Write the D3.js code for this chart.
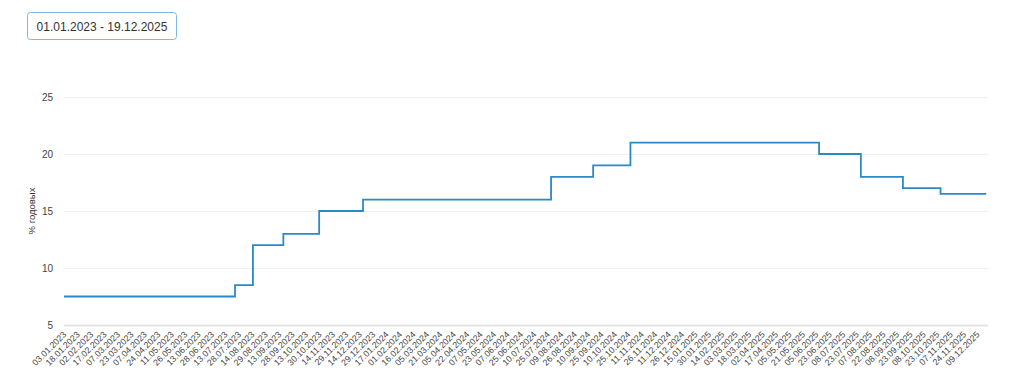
<!DOCTYPE html>
<html>
<head>
<meta charset="utf-8">
<script src="https://cdn.jsdelivr.net/npm/d3@7"></script>
<style>
  body { margin: 0; background: #fff; font-family: "Liberation Sans", Arial, sans-serif; }
</style>
</head>
<body>
<div id="chart"></div>
<script>
// key rate, change points (dd.mm.yyyy)
const rateDates = ["03.01.2023", "24.07.2023", "15.08.2023", "18.09.2023", "30.10.2023", "18.12.2023",
    "29.07.2024", "16.09.2024", "28.10.2024", "09.06.2025", "28.07.2025", "15.09.2025", "27.10.2025", "19.12.2025"];
const rateValues = [7.5, 8.5, 12, 13, 15, 16, 18, 19, 21, 20, 18, 17, 16.5, 16.5];

const tickLabels = ["03.01.2023", "18.01.2023", "02.02.2023", "17.02.2023", "07.03.2023", "23.03.2023", "07.04.2023",
    "24.04.2023", "11.05.2023", "26.05.2023", "13.06.2023", "28.06.2023", "13.07.2023", "28.07.2023", "14.08.2023",
    "29.08.2023", "13.09.2023", "28.09.2023", "13.10.2023", "30.10.2023", "14.11.2023", "29.11.2023", "14.12.2023",
    "29.12.2023", "17.01.2024", "01.02.2024", "16.02.2024", "05.03.2024", "21.03.2024", "05.04.2024", "22.04.2024",
    "07.05.2024", "23.05.2024", "07.06.2024", "25.06.2024", "10.07.2024", "25.07.2024", "09.08.2024", "26.08.2024",
    "10.09.2024", "25.09.2024", "10.10.2024", "25.10.2024", "11.11.2024", "26.11.2024", "11.12.2024", "26.12.2024",
    "15.01.2025", "30.01.2025", "14.02.2025", "03.03.2025", "18.03.2025", "02.04.2025", "17.04.2025", "05.05.2025",
    "21.05.2025", "05.06.2025", "23.06.2025", "08.07.2025", "23.07.2025", "07.08.2025", "22.08.2025", "08.09.2025",
    "23.09.2025", "08.10.2025", "23.10.2025", "07.11.2025", "24.11.2025", "09.12.2025"];
const yTicks = [5, 10, 15, 20, 25];
const rangeLabel = "01.01.2023 - 19.12.2025";
const yTitle = "% годовых";

const parse = d3.timeParse("%d.%m.%Y");

let width = 1024, height = 380;
let margin = { left: 64, right: 36, top: 97, bottom: 55 };

var svg = d3.select("#chart").append("svg")
    .attr("width", width)
    .attr("height", height);

// date range box
svg.append("rect")
    .attr("x", 27.5).attr("y", 12.5)
    .attr("width", 149).attr("height", 27)
    .attr("rx", 3)
    .attr("fill", "#fff")
    .attr("stroke", "#7fb9e3");
svg.append("text")
    .attr("x", 102).attr("y", 30.5)
    .attr("text-anchor", "middle")
    .attr("font-size", 12)
    .attr("fill", "#333")
    .text(rangeLabel);

// ticks are evenly spaced (trading days), so use a polylinear time scale
var tickDates = tickLabels.map(parse);
var step = 13.43;
var x = d3.scaleTime()
    .domain(tickDates)
    .range(tickDates.map((d, i) => margin.left + i * step));

var y = d3.scaleLinear().domain([5, 25]).range([height - margin.bottom, margin.top]);
var plotRight = width - margin.right;

// grid
svg.append("g")
    .selectAll("line")
    .data(yTicks)
    .enter().append("line")
    .attr("x1", margin.left).attr("x2", plotRight)
    .attr("y1", d => y(d) + 0.5).attr("y2", d => y(d) + 0.5)
    .attr("stroke", d => d === 5 ? "#e3e3e3" : "#f0f0f0")
    .attr("stroke-width", d => d === 5 ? 2 : 1);

// y labels
svg.append("g")
    .selectAll("text")
    .data(yTicks)
    .enter().append("text")
    .attr("x", 53).attr("y", d => y(d) + 3.5)
    .attr("text-anchor", "end")
    .attr("font-size", 10)
    .attr("fill", "#444")
    .text(d => d);

svg.append("text")
    .attr("transform", "translate(35," + y(15) + ") rotate(-90)")
    .attr("text-anchor", "middle")
    .attr("font-size", 9.5)
    .attr("fill", "#333")
    .text(yTitle);

// x labels
svg.append("g")
    .selectAll("text")
    .data(tickDates)
    .enter().append("text")
    .attr("transform", d => "translate(" + (x(d) + 3) + "," + (height - margin.bottom + 10) + ") rotate(-45)")
    .attr("text-anchor", "end")
    .attr("font-size", 8.8)
    .attr("fill", "#444")
    .text((d, i) => tickLabels[i]);

// rate line
var line = d3.line()
    .x(d => x(d.date))
    .y(d => y(d.value))
    .curve(d3.curveStepAfter);

var data = rateDates.map((d, i) => ({ date: parse(d), value: rateValues[i] }));

svg.append("path")
    .datum(data)
    .attr("fill", "none")
    .attr("stroke", "#2b89c8")
    .attr("stroke-width", 1.8)
    .attr("d", line);
</script>
</body>
</html>
